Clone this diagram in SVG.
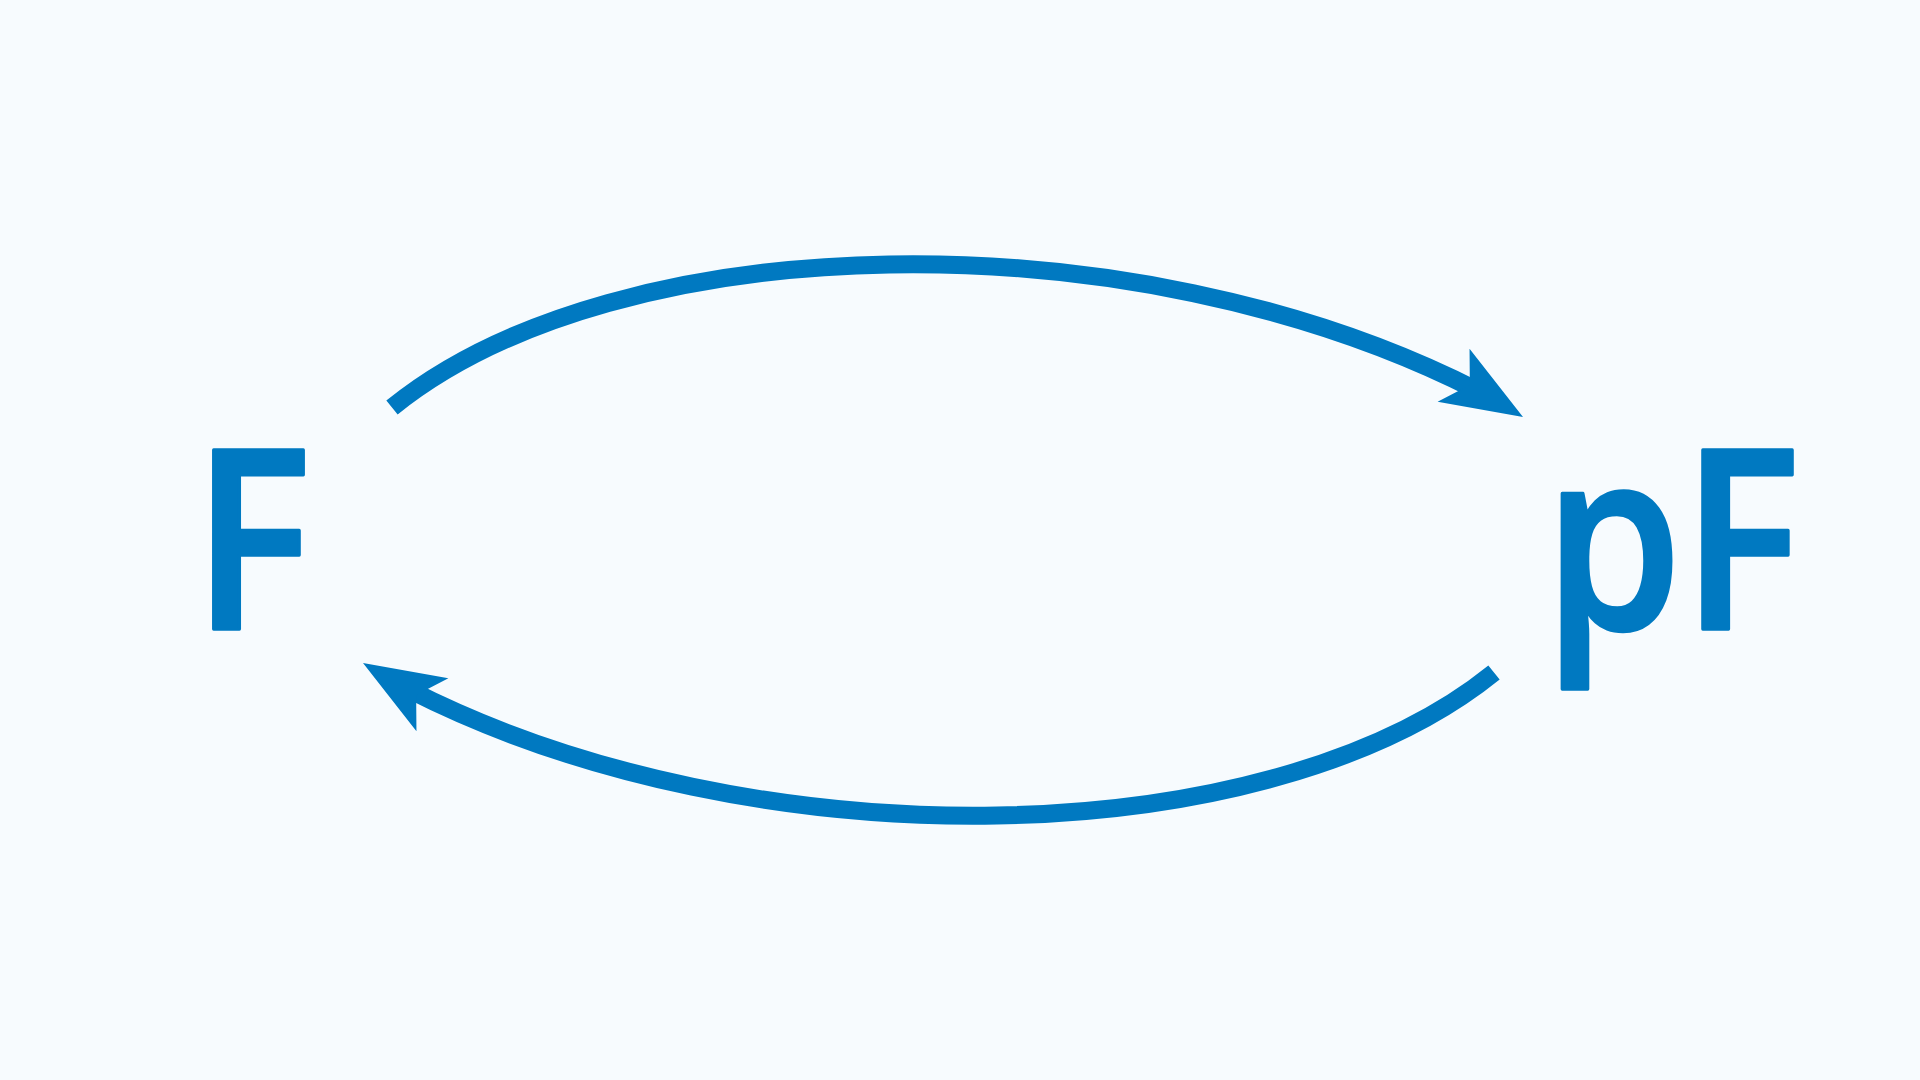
<svg xmlns="http://www.w3.org/2000/svg" width="1920" height="1080" viewBox="0 0 1920 1080">
  <defs>
    <style>
      .bg { fill: #F7FBFE; }
      .lbl { font-family: "Open Sans", "Noto Sans", "Liberation Sans", sans-serif; font-weight: 600; font-size: 250px; fill: #0079C1; stroke: #0079C1; stroke-width: 3.5; stroke-linejoin: round; }
      .arc { fill: none; stroke: #0079C1; stroke-width: 18; stroke-linecap: butt; }
      .head { fill: #0079C1; }
    </style>
    <path id="arrowhead" d="M0,0 L-81,-31 L-62,0 L-81,31 Z"/>
  </defs>
  <rect class="bg" x="0" y="0" width="1920" height="1080"/>
  <g id="connectors">
    <path class="arc" d="M392,407.5 C617.3,225.1 1130.5,213.9 1478,391"/>
    <use href="#arrowhead" class="head" transform="translate(1523,417) rotate(31)"/>
    <path class="arc" d="M1494,672.5 C1268.7,854.9 755.5,866.1 408,689"/>
    <use href="#arrowhead" class="head" transform="translate(363,663) rotate(211)"/>
  </g>
  <g id="node-F">
    <text class="lbl" x="190.5" y="629.5" transform="matrix(0.89,0,0,1,23.3,0)">F</text>
  </g>
  <g id="node-pF">
    <text class="lbl" x="1801" y="629.5" text-anchor="end" transform="matrix(0.887,0,0,1,202.7,0)">pF</text>
  </g>
</svg>
